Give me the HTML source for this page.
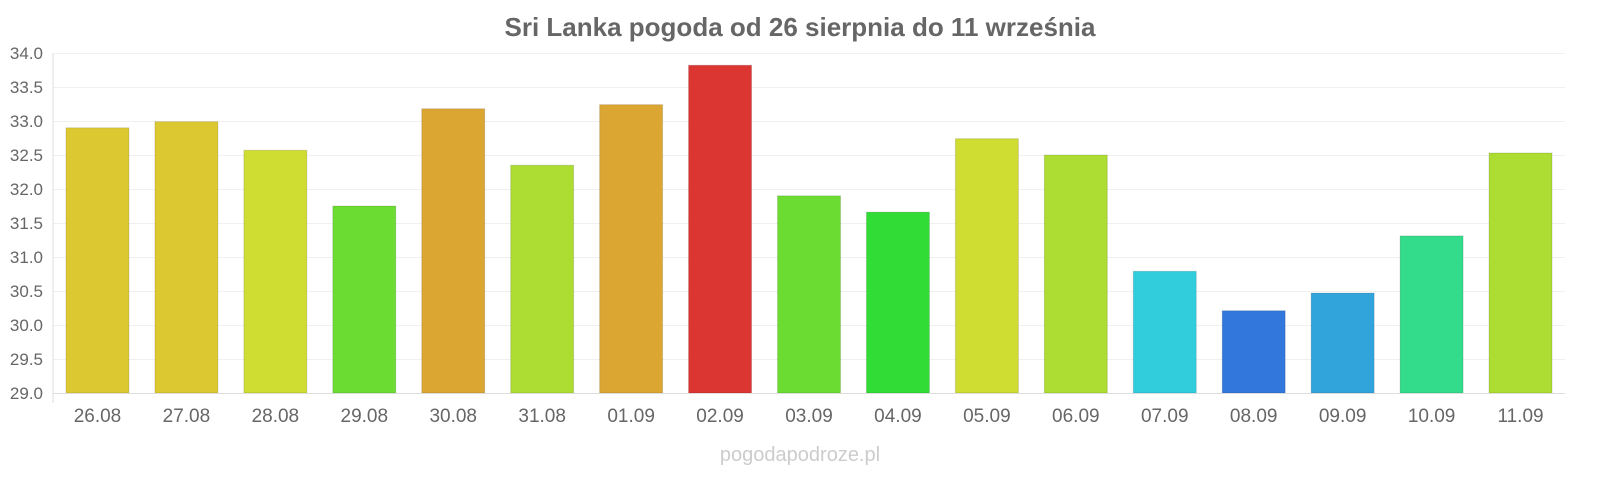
<!DOCTYPE html>
<html><head><meta charset="utf-8"><style>
body{margin:0;background:#fff;font-family:"Liberation Sans",sans-serif}
svg text{font-family:"Liberation Sans",sans-serif}
</style></head><body>
<svg id="chart" width="1600" height="480" viewBox="0 0 1600 480" xmlns="http://www.w3.org/2000/svg">
<text x="800" y="36" text-anchor="middle" font-size="26" font-weight="bold" fill="#666">Sri Lanka pogoda od 26 sierpnia do 11 września</text>
<g id="grid"></g><g id="bars"></g><g id="xlabels"></g><g id="ylabels"></g>
<line x1="53" y1="53" x2="53" y2="403" stroke="#ddd"/>
<line x1="53" y1="393.5" x2="1565" y2="393.5" stroke="#ddd"/>
<text x="800" y="461" text-anchor="middle" font-size="20" fill="#ccc">pogodapodroze.pl</text>
</svg>
<script>
const categories=["26.08","27.08","28.08","29.08","30.08","31.08","01.09","02.09","03.09","04.09","05.09","06.09","07.09","08.09","09.09","10.09","11.09"];
const values=[32.90,32.99,32.57,31.75,33.18,32.35,33.24,33.82,31.90,31.66,32.74,32.50,30.79,30.21,30.47,31.31,32.53];
const colors=["#dcc932","#dcc932","#cfdc32","#6bdc32","#dca632","#addc32","#dca632","#dc3632","#6bdc32","#32dc36","#cfdc32","#addc32","#32cddc","#3278dc","#32a4dc","#32dc8a","#addc32"];
const yTicks=["29.0","29.5","30.0","30.5","31.0","31.5","32.0","32.5","33.0","33.5","34.0"];
const NS="http://www.w3.org/2000/svg";
const x0=53,x1=1565,yMin=29,yMax=34,yTop=53,yBot=393;
const y=v=>yBot-(v-yMin)/(yMax-yMin)*(yBot-yTop);
const step=(x1-x0)/categories.length;
const xc=i=>x0+step*(i+0.5);
const mk=(t,a,p)=>{const e=document.createElementNS(NS,t);for(const k in a)e.setAttribute(k,a[k]);p.appendChild(e);return e;};
const G=document.getElementById('grid'),B=document.getElementById('bars'),XL=document.getElementById('xlabels'),YL=document.getElementById('ylabels');
yTicks.forEach(t=>{const v=parseFloat(t);
 const l=mk('line',{x1:x0,x2:x1,y1:y(v)+0.5,y2:y(v)+0.5,stroke:'#f0f0f0'},G);
 
 
 const tx=mk('text',{x:43,y:y(v)+6,'text-anchor':'end','font-size':17,fill:'#666'},YL);
 tx.textContent=t;
 
 
});
categories.forEach((c,i)=>{const w=63,top=y(values[i]);
 const r=mk('rect',{x:xc(i)-w/2,y:top,width:w,height:yBot-top,fill:colors[i],stroke:'rgba(0,0,0,0.12)'},B);
 
 
 const tx=mk('text',{x:xc(i),y:422,'text-anchor':'middle','font-size':19,fill:'#666'},XL);
 tx.textContent=c;
 
 
});
</script>
</body></html>
